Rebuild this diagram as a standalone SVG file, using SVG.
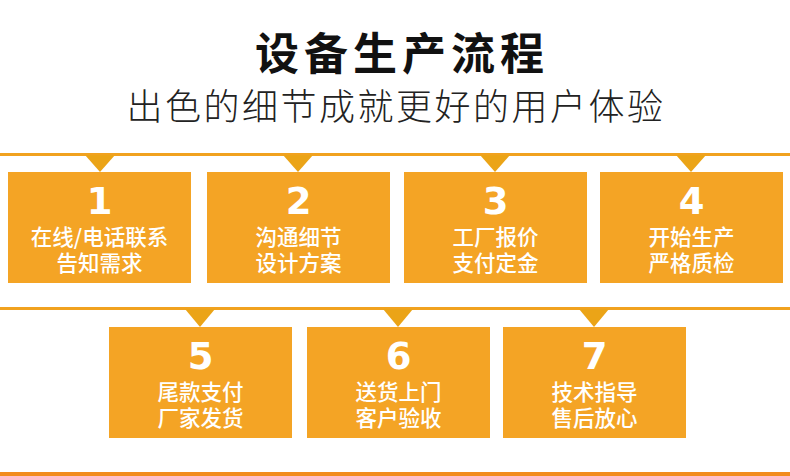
<svg xmlns="http://www.w3.org/2000/svg" width="790" height="476" viewBox="0 0 790 476">
<style>
.bg{fill:#ffffff}
.line{fill:#F1A21F}
.box{fill:#F4A425}
.tri{fill:#EBA417}
.num{font-family:"DejaVu Sans","Liberation Sans",sans-serif;font-weight:900;font-size:37px;fill:#ffffff;text-anchor:middle}
.lbl{font-family:"Noto Sans CJK SC","Noto Sans",sans-serif;font-weight:500;font-size:21.5px;fill:#ffffff;text-anchor:middle}
.title{font-family:"Noto Sans CJK SC",sans-serif;font-weight:700;font-size:44px;fill:#111111;text-anchor:middle;letter-spacing:5px}
.sub{font-family:"Noto Sans CJK SC",sans-serif;font-weight:300;font-size:36px;fill:#222222;text-anchor:middle;letter-spacing:2.5px}
</style>
<rect class="bg" x="0" y="0" width="790" height="476"/>
<g id="title">
<text class="title" x="402" y="70">设备生产流程</text>
<text class="sub" x="396" y="120">出色的细节成就更好的用户体验</text>
</g>
<g id="connectors">
<rect class="line" x="0" y="153" width="790" height="3"/>
<rect class="line" x="0" y="307" width="790" height="3"/>
<rect x="0" y="472" width="790" height="4" fill="#F28C1C"/>
<polygon class="tri" points="85,155 115,155 100,172"/>
<polygon class="tri" points="283,155 313,155 298,172"/>
<polygon class="tri" points="480,155 510,155 495,172"/>
<polygon class="tri" points="676,155 706,155 691,172"/>
<polygon class="tri" points="185,309 215,309 200,327"/>
<polygon class="tri" points="383,309 413,309 398,327"/>
<polygon class="tri" points="579,309 609,309 594,327"/>
</g>
<g id="node1">
<rect class="box" x="8" y="172" width="183" height="111"/>
<text class="num" x="99.5" y="214">1</text>
<text class="lbl"><tspan x="99.5" y="245">在线/电话联系</tspan><tspan x="99.5" y="271">告知需求</tspan></text>
</g>
<g id="node2">
<rect class="box" x="207" y="172" width="183" height="111"/>
<text class="num" x="298.5" y="214">2</text>
<text class="lbl"><tspan x="298.5" y="245">沟通细节</tspan><tspan x="298.5" y="271">设计方案</tspan></text>
</g>
<g id="node3">
<rect class="box" x="404" y="172" width="183" height="111"/>
<text class="num" x="495.5" y="214">3</text>
<text class="lbl"><tspan x="495.5" y="245">工厂报价</tspan><tspan x="495.5" y="271">支付定金</tspan></text>
</g>
<g id="node4">
<rect class="box" x="600" y="172" width="183" height="111"/>
<text class="num" x="691.5" y="214">4</text>
<text class="lbl"><tspan x="691.5" y="245">开始生产</tspan><tspan x="691.5" y="271">严格质检</tspan></text>
</g>
<g id="node5">
<rect class="box" x="109" y="327" width="183" height="111"/>
<text class="num" x="200.5" y="369">5</text>
<text class="lbl"><tspan x="200.5" y="400">尾款支付</tspan><tspan x="200.5" y="426">厂家发货</tspan></text>
</g>
<g id="node6">
<rect class="box" x="307" y="327" width="183" height="111"/>
<text class="num" x="398.5" y="369">6</text>
<text class="lbl"><tspan x="398.5" y="400">送货上门</tspan><tspan x="398.5" y="426">客户验收</tspan></text>
</g>
<g id="node7">
<rect class="box" x="503" y="327" width="183" height="111"/>
<text class="num" x="594.5" y="369">7</text>
<text class="lbl"><tspan x="594.5" y="400">技术指导</tspan><tspan x="594.5" y="426">售后放心</tspan></text>
</g>
</svg>
